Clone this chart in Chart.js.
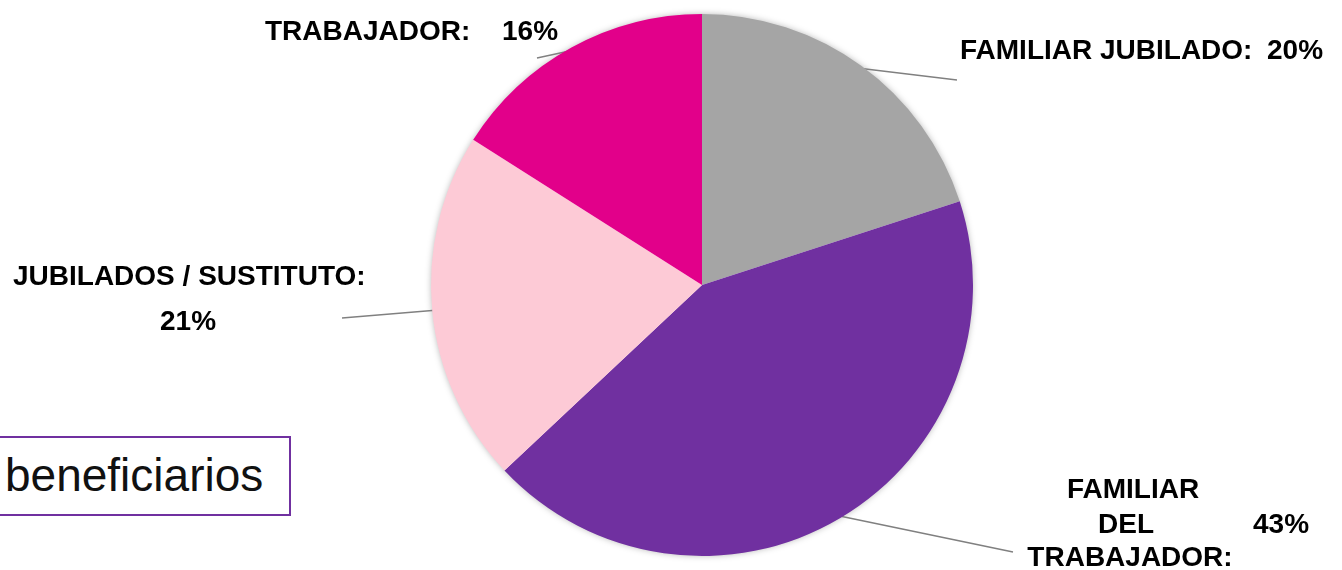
<!DOCTYPE html>
<html lang="es">
<head>
  <meta charset="UTF-8">
  <title>Beneficiarios</title>
  <script src="https://cdn.jsdelivr.net/npm/chart.js"></script>
  <style>
    body { margin: 0; background: #FFFFFF; font-family: "Liberation Sans", Arial, sans-serif; }
    .wrap { position: relative; width: 1342px; height: 570px; overflow: hidden; }
    canvas { position: absolute; left: 0; top: 0; }
    .caja {
      position: absolute; left: -4px; top: 436px; width: 284px; height: 76px;
      border: 2.5px solid #7030A0; background: #FFFFFF;
      font-size: 46px; line-height: 74px; color: #111; padding-left: 7px; box-sizing: content-box;
    }
  </style>
</head>
<body>
  <div class="wrap">
    <canvas id="grafico" width="1342" height="570"></canvas>
    <div class="caja">beneficiarios</div>
  </div>

  <script>
    // categorias y valores (%)
    const categorias = ["FAMILIAR JUBILADO", "FAMILIAR DEL TRABAJADOR", "JUBILADOS / SUSTITUTO", "TRABAJADOR"];
    const valores = [20, 43, 21, 16];
    const colores = ["#A5A5A5", "#7030A0", "#FDCAD6", "#E2008A"];

    // donde va cada etiqueta (lineas de texto, porcentaje, fin de la linea guia)
    const etiquetas = [
      { lineas: [["FAMILIAR JUBILADO:", 960, 59, "left"]], pct: [1267, 59, "left"], guia: [957, 80] },
      { lineas: [["FAMILIAR", 1133, 498, "center"], ["DEL", 1126, 533, "center"], ["TRABAJADOR:", 1130, 566, "center"]], pct: [1253, 533, "left"], guia: [1013, 552] },
      { lineas: [["JUBILADOS / SUSTITUTO:", 13, 285, "left"]], pct: [160, 330, "left"], guia: [342, 318] },
      { lineas: [["TRABAJADOR:", 265, 40, "left"]], pct: [502, 40, "left"], guia: [537, 58] }
    ];

    const sombraYGuias = {
      id: "sombraYGuias",
      beforeDatasetsDraw(chart) {
        const ctx = chart.ctx;
        const arcos = chart.getDatasetMeta(0).data;
        const a0 = arcos[0];
        // sombra suave del pastel
        ctx.save();
        ctx.shadowColor = "rgba(0,0,0,0.35)";
        ctx.shadowBlur = 7;
        ctx.fillStyle = "#FFFFFF";
        ctx.beginPath();
        ctx.arc(a0.x, a0.y, a0.outerRadius - 1, 0, Math.PI * 2);
        ctx.fill();
        ctx.restore();
        // lineas guia
        ctx.save();
        ctx.strokeStyle = "#808080";
        ctx.lineWidth = 1.5;
        arcos.forEach((arco, i) => {
          const medio = (arco.startAngle + arco.endAngle) / 2;
          const r = arco.outerRadius - 3;
          ctx.beginPath();
          ctx.moveTo(arco.x + Math.cos(medio) * r, arco.y + Math.sin(medio) * r);
          ctx.lineTo(etiquetas[i].guia[0], etiquetas[i].guia[1]);
          ctx.stroke();
        });
        ctx.restore();
      },
      afterDatasetsDraw(chart) {
        const ctx = chart.ctx;
        ctx.save();
        ctx.fillStyle = "#000000";
        ctx.font = "bold 28px 'Liberation Sans', Arial, sans-serif";
        ctx.textBaseline = "alphabetic";
        etiquetas.forEach((et, i) => {
          et.lineas.forEach(l => {
            ctx.textAlign = l[3];
            ctx.fillText(l[0], l[1], l[2]);
          });
          ctx.textAlign = et.pct[2];
          ctx.fillText(valores[i] + "%", et.pct[0], et.pct[1]);
        });
        ctx.restore();
      }
    };

    new Chart(document.getElementById("grafico").getContext("2d"), {
      type: "pie",
      data: {
        labels: categorias,
        datasets: [{
          data: valores,
          backgroundColor: colores,
          borderWidth: 0
        }]
      },
      options: {
        responsive: false,
        animation: false,
        layout: { padding: { left: 62, right: 0, top: 14, bottom: 14 } },
        plugins: {
          legend: { display: false },
          tooltip: { enabled: false }
        }
      },
      plugins: [sombraYGuias]
    });
  </script>
</body>
</html>
